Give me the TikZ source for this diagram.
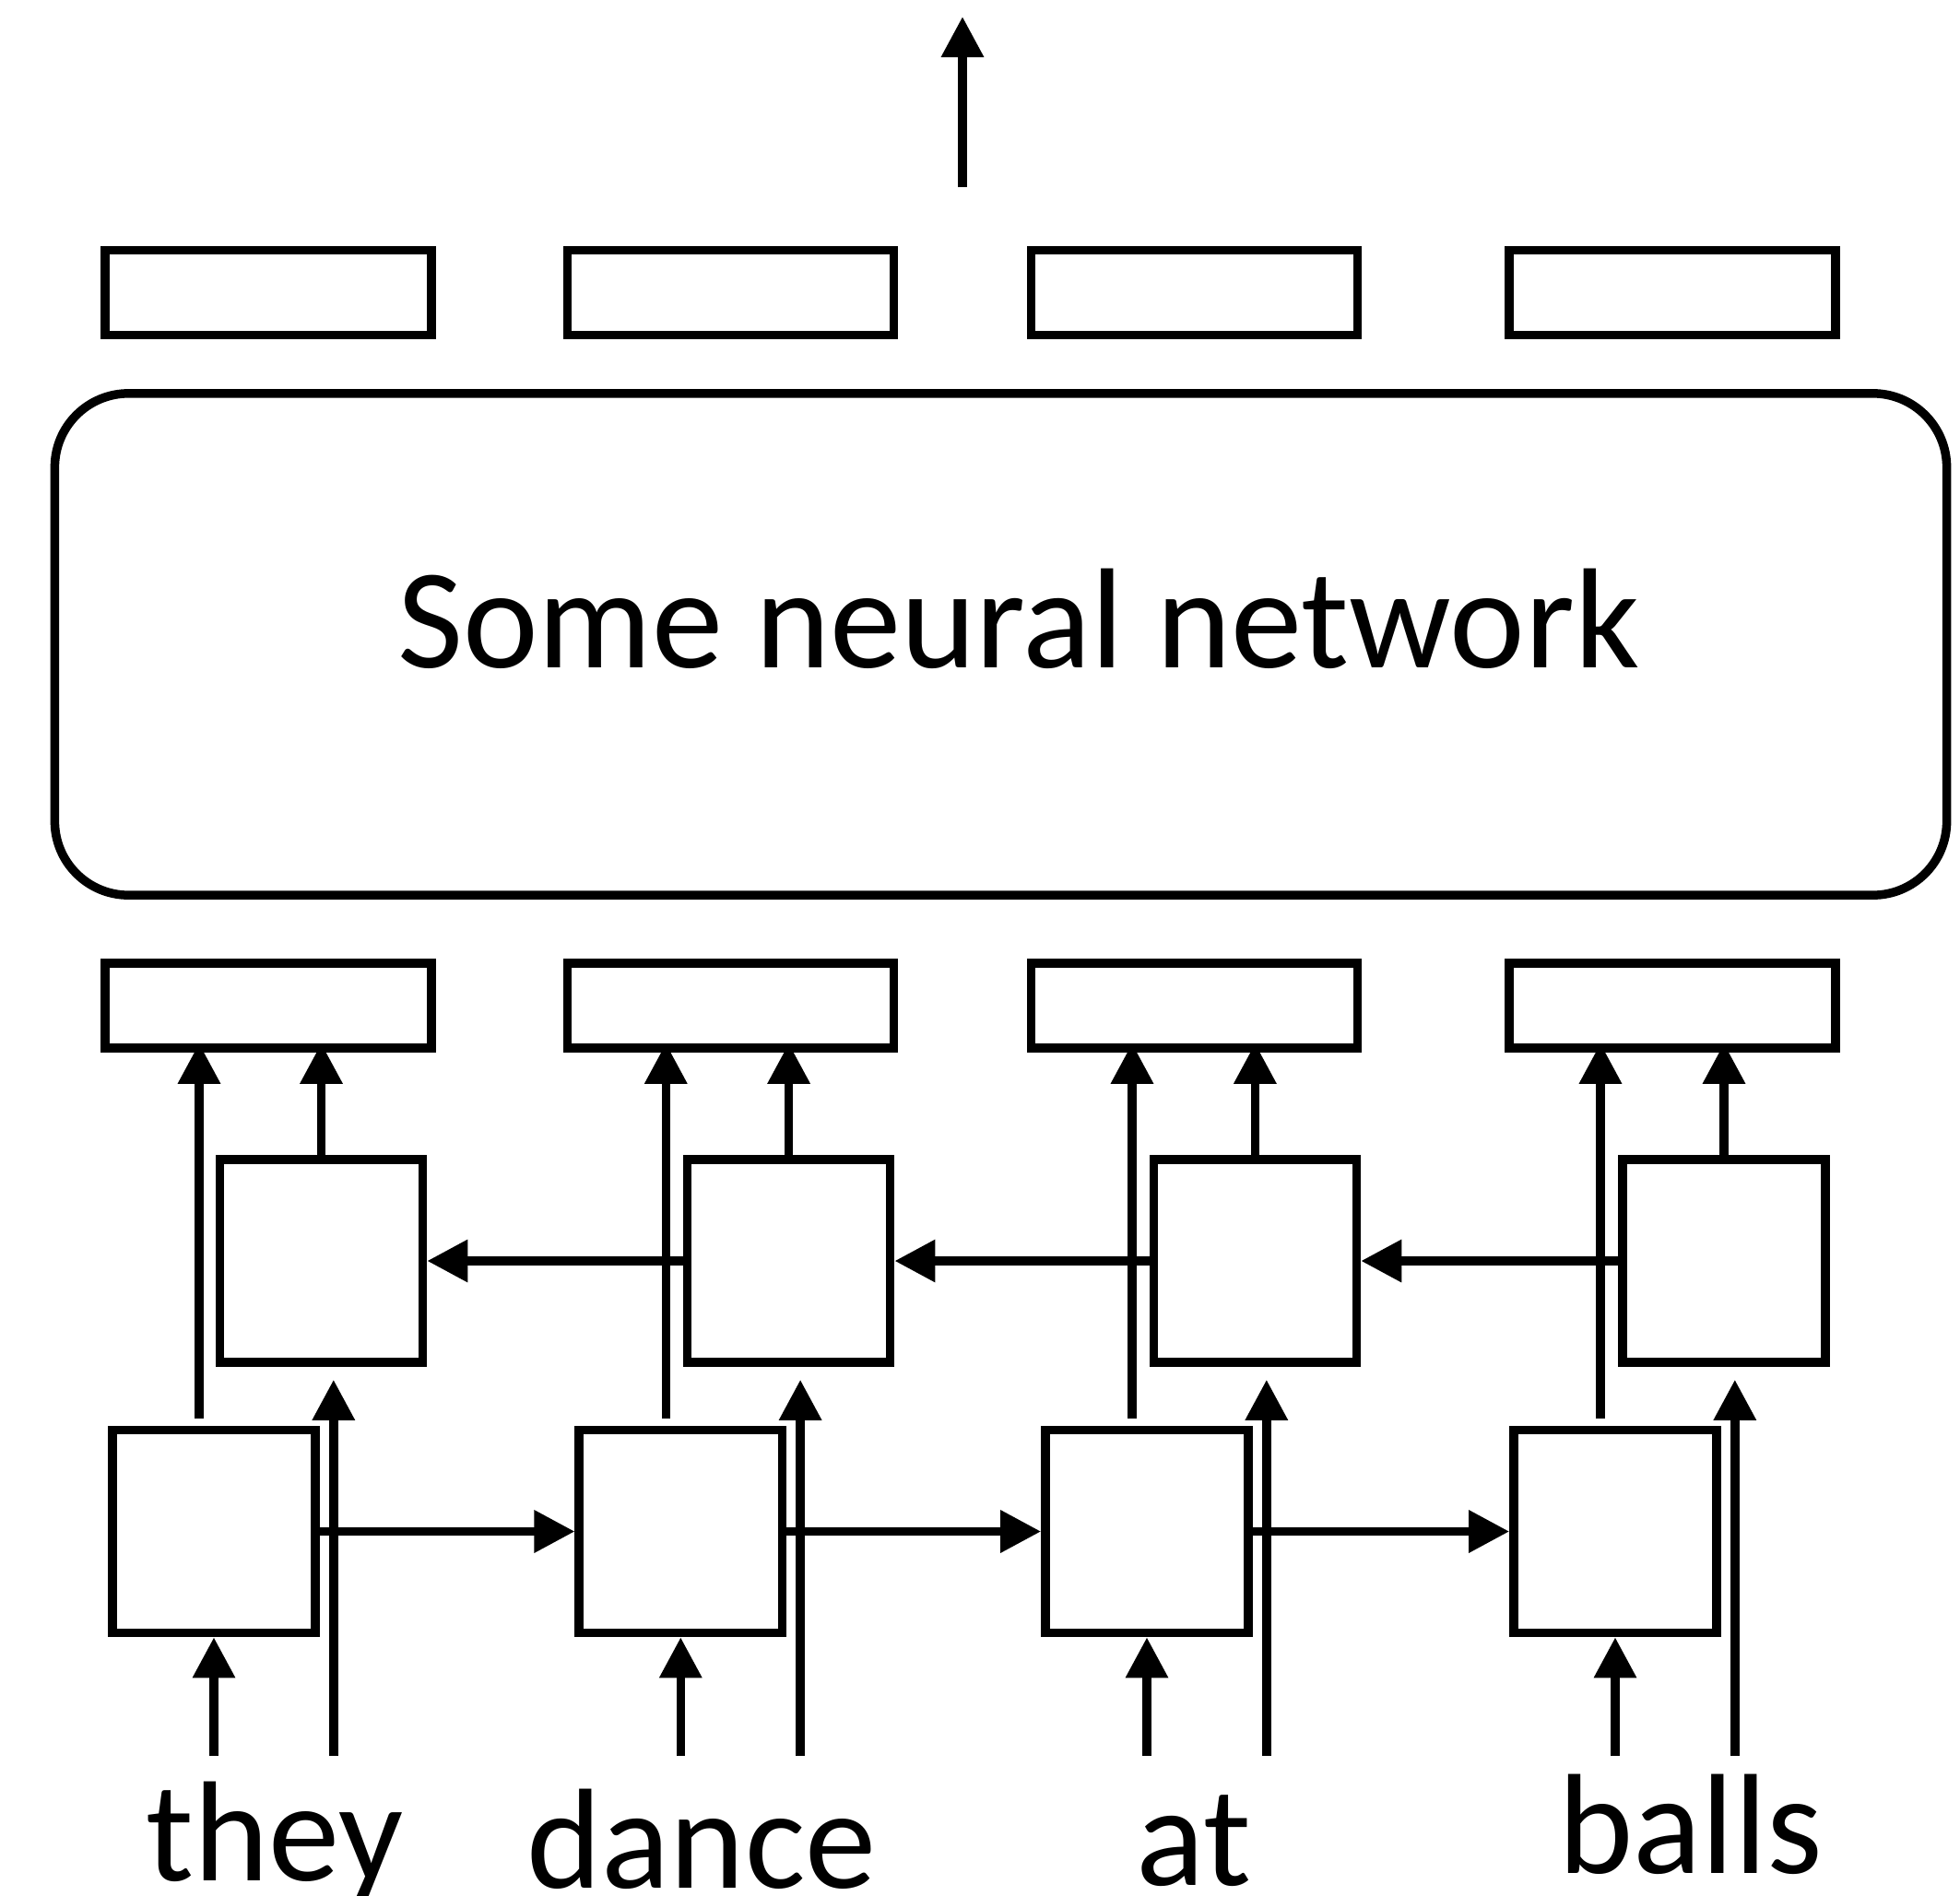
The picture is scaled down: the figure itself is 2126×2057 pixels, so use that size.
\documentclass[tikz,border=0pt]{standalone}
\usepackage{fontspec}
\setmainfont{Carlito}
\usetikzlibrary{arrows.meta,calc}

\begin{document}
\begin{tikzpicture}[x=0.01cm,y=-0.01cm,line width=0.095cm]
\tikzstyle{bar node}=[rectangle,draw,minimum width=3.54cm,minimum height=0.92cm,inner sep=0]
\tikzstyle{cell node}=[rectangle,draw,minimum size=2.2cm,inner sep=0]
\tikzset{
	net node/.style={rectangle,draw,rounded corners=0.8cm,minimum width=20.51cm,minimum height=5.44cm,inner sep=0},
	word node/.style={anchor=base,inner sep=0,font=\fontsize{44}{50}\selectfont},
	arr/.style={-{Triangle[length=0.44cm,width=0.44cm]}}
}
\useasboundingbox (0,0) rectangle (2126,2057);
\coordinate (out) at (1044,203);
\coordinate (out top) at (1044,18);
\coordinate (in) at (0,1905);
\node[bar node] (t1) at (291,317.5) {};
\node[bar node] (t2) at (792.5,317.5) {};
\node[bar node] (t3) at (1295.5,317.5) {};
\node[bar node] (t4) at (1814,317.5) {};
\node[net node] (net) at (1085.5,699) {};
\node[word node] (net label) at (1105,724) {Some neural network};
\node[bar node] (l1) at (291,1091) {};
\node[bar node] (l2) at (792.5,1091) {};
\node[bar node] (l3) at (1295.5,1091) {};
\node[bar node] (l4) at (1814,1091) {};
\node[cell node] (b1) at (348.5,1368) {};
\node[cell node] (b2) at (855.6,1368) {};
\node[cell node] (b3) at (1361.4,1368) {};
\node[cell node] (b4) at (1870,1368) {};
\node[cell node] (f1) at (232,1661.5) {};
\node[cell node] (f2) at (738.3,1661.5) {};
\node[cell node] (f3) at (1244,1661.5) {};
\node[cell node] (f4) at (1752,1661.5) {};
\node[word node] (w1) at (298,2040) {they};
\node[word node] (w2) at (761,2048) {dance};
\node[word node] (w3) at (1295,2045) {at};
\node[word node] (w4) at (1834,2032) {balls};
\draw[arr] (out) -- (out top);
\foreach \i in {1,2,3,4}{
	\coordinate (u\i) at ($(f\i.north)+(-16,0)$);
	\coordinate (s\i) at ($(f\i.east)+(15,0)$);
	\draw[arr] (f\i.south |- in) -- (f\i.south);
	\draw[arr] (s\i |- in) -- ([yshift=-0.14cm]s\i |- b\i.south);
	\draw[arr] ([yshift=0.08cm]u\i) -- ([yshift=0.1cm]u\i |- l\i.south);
	\draw[arr] (b\i.north) -- ([yshift=0.1cm]b\i.north |- l\i.south);
}
\foreach \i/\j in {1/2,2/3,3/4}{
	\draw[arr] (f\i.east) -- (f\j.west);
	\draw[arr] (b\j.west) -- (b\i.east);
}
\end{tikzpicture}
\end{document}
